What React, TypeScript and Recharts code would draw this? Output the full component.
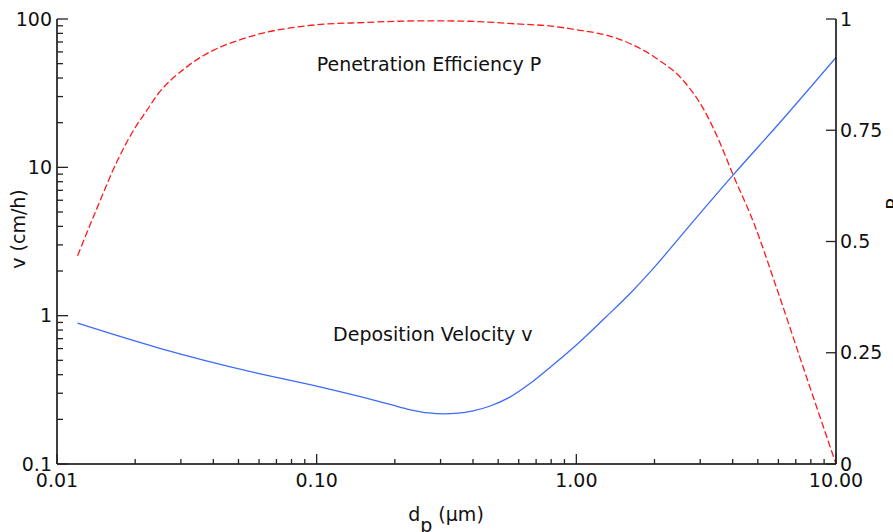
import { LineChart, Line, XAxis, YAxis, ReferenceDot, Label } from 'recharts'

const FONT = '"DejaVu Sans", Verdana, sans-serif'
const BLUE = '#3b6cf5'
const RED = '#ff1a1a'
const INK = '#111'

// deposition velocity v (cm/h) vs particle diameter d_p (µm)
const vDiameters = [0.012, 0.0243, 0.0589, 0.1, 0.15, 0.192, 0.23, 0.27, 0.309, 0.35, 0.4, 0.466, 0.55, 0.665, 0.8, 1.0, 1.3, 1.614, 2.03, 2.51, 4.02, 6.3, 10]
const vValues = [0.89, 0.61, 0.41, 0.335, 0.282, 0.252, 0.232, 0.221, 0.218, 0.22, 0.228, 0.246, 0.28, 0.35, 0.455, 0.635, 0.98, 1.416, 2.19, 3.4, 8.89, 21.5, 55]

// penetration efficiency P vs particle diameter
const pDiameters = [0.012, 0.01426, 0.017, 0.0203, 0.0222, 0.0243, 0.0277, 0.0303, 0.0336, 0.0367, 0.0401, 0.0493, 0.0607, 0.0791, 0.1, 0.15, 0.266, 0.38, 0.59, 0.8, 1.0, 1.426, 2.03, 2.57, 3.08, 3.56, 4.02, 4.8, 5.91, 7.5, 10]
const pValues = [0.468, 0.575, 0.679, 0.762, 0.795, 0.829, 0.865, 0.884, 0.904, 0.918, 0.93, 0.951, 0.967, 0.98, 0.987, 0.992, 0.996, 0.995, 0.989, 0.984, 0.976, 0.957, 0.912, 0.863, 0.799, 0.724, 0.649, 0.545, 0.395, 0.215, 0]

const xMajor = [0.01, 0.1, 1, 10]
const xLabels = ['0.01', '0.10', '1.00', '10.00']
const yMajor = [0.1, 1, 10, 100]
const yLabels = ['0.1', '1', '10', '100']
const pTicks = [0, 0.25, 0.5, 0.75, 1]
const pLabels = ['0', '0.25', '0.5', '0.75', '1']

function logTicks(majors: number[]) {
  const out: number[] = []
  for (let i = 0; i < majors.length - 1; i++) {
    for (let k = 1; k < 10; k++) out.push(Number((majors[i] * k).toPrecision(6)))
  }
  out.push(majors[majors.length - 1])
  return out
}

const vData = vDiameters.map((d, i) => ({ d, v: vValues[i] }))
const pData = pDiameters.map((d, i) => ({ d, p: pValues[i] }))

const majorIndex = (list: number[], value: number) =>
  list.findIndex(m => Math.abs(m - value) < 1e-9)

const textStyle = { fontFamily: FONT, fontSize: 19, fill: INK }

function XTick({ x, y, payload }: { x?: number; y?: number; payload?: { value: number } }) {
  const i = majorIndex(xMajor, payload?.value ?? 0)
  const len = i >= 0 ? 10 : 5
  return (
    <g>
      <line x1={x} x2={x} y1={y} y2={(y ?? 0) - len} stroke="#222" strokeWidth={1.3} />
      {i >= 0 && (
        <text x={x} y={(y ?? 0) + 23} textAnchor="middle" {...textStyle}>{xLabels[i]}</text>
      )}
    </g>
  )
}

function LeftTick({ x, y, payload }: { x?: number; y?: number; payload?: { value: number } }) {
  const i = majorIndex(yMajor, payload?.value ?? 0)
  const len = i >= 0 ? 11 : 6
  return (
    <g>
      <line x1={x} x2={(x ?? 0) + len} y1={y} y2={y} stroke="#222" strokeWidth={1.3} />
      {i >= 0 && (
        <text x={(x ?? 0) - 5} y={(y ?? 0) + 6.5} textAnchor="end" {...textStyle}>{yLabels[i]}</text>
      )}
    </g>
  )
}

function RightTick({ x, y, payload }: { x?: number; y?: number; payload?: { value: number } }) {
  const i = majorIndex(pTicks, payload?.value ?? 0)
  return (
    <g>
      <line x1={x} x2={(x ?? 0) - 10} y1={y} y2={y} stroke="#222" strokeWidth={1.3} />
      <text x={(x ?? 0) + 4} y={(y ?? 0) + 6.5} textAnchor="start" {...textStyle}>{pLabels[i]}</text>
    </g>
  )
}

function Note({ viewBox, text }: { viewBox?: { x: number; y: number }; text: string }) {
  if (!viewBox) return null
  return <text x={viewBox.x} y={viewBox.y} textAnchor="start" {...textStyle}>{text}</text>
}

export default function App() {
  return (
    <div style={{ position: 'absolute', left: 0, top: 0, width: 893, height: 532, background: '#fff' }}>
      <LineChart width={893} height={532} margin={{ top: 19, right: 0, bottom: 0, left: 0 }}>
        <XAxis
          dataKey="d"
          type="number"
          scale="log"
          domain={[0.01, 10]}
          allowDataOverflow
          ticks={logTicks(xMajor)}
          interval={0}
          tick={<XTick />}
          tickLine={false}
          tickSize={0}
          tickMargin={0}
          height={68}
          axisLine={{ stroke: '#000', strokeWidth: 1.5 }}
        >
          <Label
            content={() => (
              <text x={446} y={521} textAnchor="middle" {...textStyle}>
                d<tspan dy={11}>p</tspan><tspan dy={-11}> (µm)</tspan>
              </text>
            )}
          />
        </XAxis>
        <YAxis
          yAxisId="left"
          type="number"
          scale="log"
          domain={[0.1, 100]}
          allowDataOverflow
          ticks={logTicks(yMajor)}
          interval={0}
          tick={<LeftTick />}
          tickLine={false}
          tickSize={0}
          tickMargin={0}
          width={57}
          axisLine={{ stroke: '#000', strokeWidth: 1.5 }}
        >
          <Label
            content={() => (
              <text x={25} y={229} transform="rotate(-90 25 229)" textAnchor="middle" {...textStyle}>
                v (cm/h)
              </text>
            )}
          />
        </YAxis>
        <YAxis
          yAxisId="right"
          orientation="right"
          type="number"
          domain={[0, 1]}
          ticks={pTicks}
          interval={0}
          tick={<RightTick />}
          tickLine={false}
          tickSize={0}
          tickMargin={0}
          width={57}
          axisLine={{ stroke: '#000', strokeWidth: 1.5 }}
        >
          <Label
            content={() => (
              <text x={900} y={204} transform="rotate(-90 900 204)" textAnchor="middle" {...textStyle}>
                P
              </text>
            )}
          />
        </YAxis>
        <Line
          yAxisId="right"
          data={pData}
          dataKey="p"
          type="monotone"
          stroke={RED}
          strokeWidth={1.3}
          strokeDasharray="7 3"
          dot={false}
          activeDot={false}
          isAnimationActive={false}
        />
        <Line
          yAxisId="left"
          data={vData}
          dataKey="v"
          type="monotone"
          stroke={BLUE}
          strokeWidth={1.3}
          dot={false}
          activeDot={false}
          isAnimationActive={false}
        />
        <ReferenceDot
          yAxisId="right"
          x={0.1}
          y={0.883}
          r={0}
          fill="none"
          stroke="none"
          label={<Note text="Penetration Efficiency P" />}
        />
        <ReferenceDot
          yAxisId="left"
          x={0.1157}
          y={0.678}
          r={0}
          fill="none"
          stroke="none"
          label={<Note text="Deposition Velocity v" />}
        />
      </LineChart>
    </div>
  )
}
